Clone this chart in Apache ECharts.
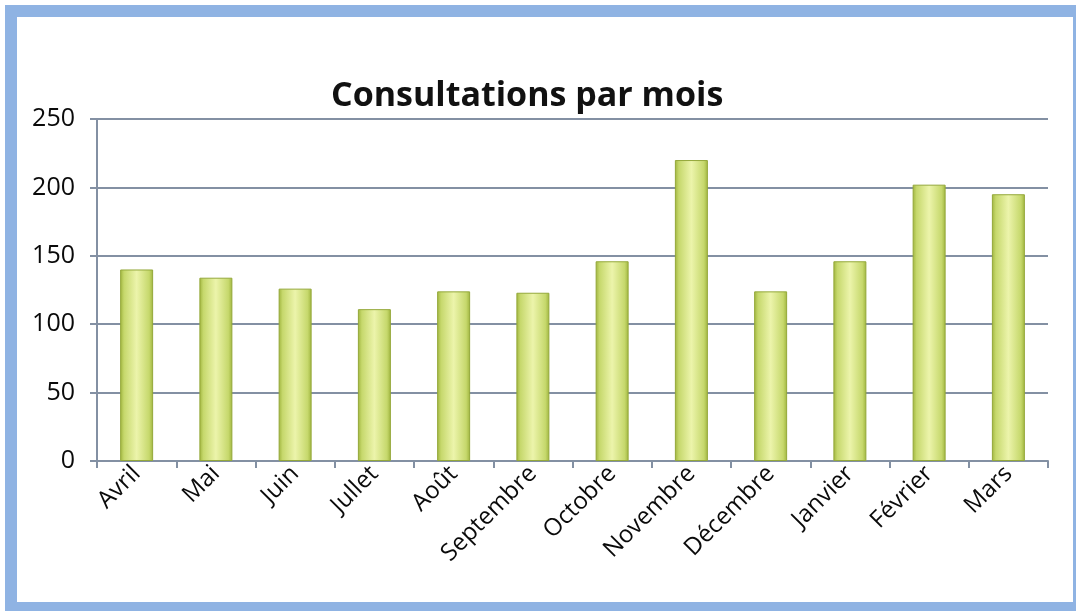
<!DOCTYPE html>
<html>
<head>
<meta charset="utf-8">
<script src="https://cdn.jsdelivr.net/npm/echarts@6/dist/echarts.min.js"></script>
<style>
html,body{margin:0;padding:0;background:#fff;}
#c{width:1076px;height:611px;}
</style>
</head>
<body>
<div id="c"></div>
<script>
const categories = ['Avril','Mai','Juin','Jullet','Août','Septembre','Octobre','Novembre','Décembre','Janvier','Février','Mars'];
const values = [140, 134, 126, 111, 124, 123, 146, 220, 124, 146, 202, 195];
const yTicks = [0, 50, 100, 150, 200, 250];
const titleText = 'Consultations par mois';

const chart = echarts.init(document.getElementById('c'), null, {renderer: 'canvas'});
const axisColor = '#8390a3';
const font = 'Open Sans, DejaVu Sans, sans-serif';

chart.setOption({
  animation: false,
  backgroundColor: '#ffffff',
  title: {
    text: titleText,
    left: 326,
    top: 74,
    textStyle: {fontFamily: font, fontWeight: 'bold', fontSize: 34, color: '#111'}
  },
  graphic: [{
    type: 'rect',
    shape: {x: 11, y: 11, width: 1068, height: 597},
    style: {fill: 'none', stroke: '#8fb3e3', lineWidth: 12},
    silent: true
  }],
  grid: {left: 97, right: 28, top: 119, bottom: 150, containLabel: false},
  xAxis: {
    type: 'category',
    data: categories,
    boundaryGap: true,
    axisLine: {lineStyle: {color: axisColor, width: 2}},
    axisTick: {show: true, alignWithLabel: false, length: 7, lineStyle: {color: axisColor, width: 2}},
    axisLabel: {rotate: 45, interval: 0, margin: 9, fontFamily: font, fontWeight: 500, fontSize: 24, color: '#0a0a0a'},
    splitLine: {show: false}
  },
  yAxis: {
    type: 'value',
    min: yTicks[0],
    max: yTicks[yTicks.length - 1],
    interval: 50,
    axisLine: {show: true, lineStyle: {color: axisColor, width: 2}},
    axisTick: {show: true, length: 7, lineStyle: {color: axisColor, width: 2}},
    axisLabel: {margin: 22, fontFamily: font, fontSize: 25, color: '#0a0a0a'},
    splitLine: {show: true, lineStyle: {color: axisColor, width: 2}}
  },
  series: [{
    type: 'bar',
    data: values,
    barWidth: 33,
    itemStyle: {
      color: new echarts.graphic.LinearGradient(0, 0, 1, 0, [
        {offset: 0, color: '#9fb43e'},
        {offset: 0.12, color: '#c6d86c'},
        {offset: 0.5, color: '#ecf4ab'},
        {offset: 0.88, color: '#c6d86c'},
        {offset: 1, color: '#9fb43e'}
      ]),
      borderColor: '#94a83a',
      borderWidth: 1
    }
  }]
});
</script>
</body>
</html>
